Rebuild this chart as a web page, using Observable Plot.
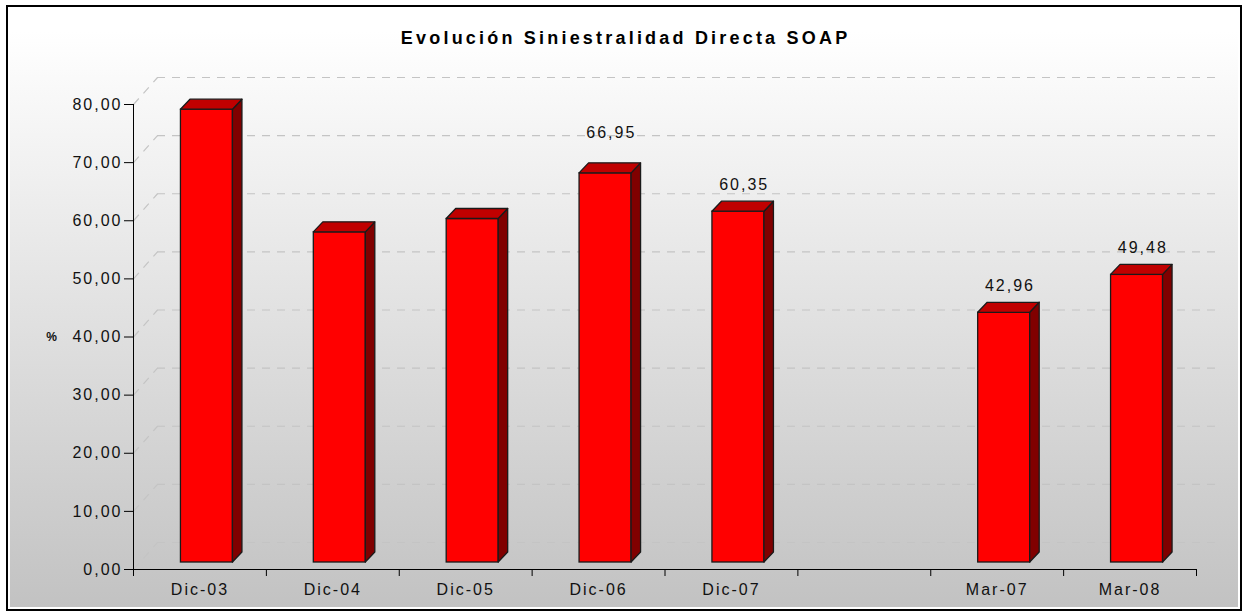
<!DOCTYPE html>
<html>
<head>
<meta charset="utf-8">
<script src="https://cdn.jsdelivr.net/npm/d3@7"></script>
<script src="https://cdn.jsdelivr.net/npm/@observablehq/plot@0.6"></script>
<style>
  html, body { margin: 0; padding: 0; background: #ffffff; }
  #page { position: relative; width: 1248px; height: 613px; overflow: hidden; background: #ffffff; }
  #frame {
    position: absolute; left: 6px; top: 5px; width: 1236px; height: 606px;
    box-sizing: border-box; border: 2px solid #000;
    box-shadow: inset 0 0 0 2px #ffffff;
    background: linear-gradient(to bottom, #ffffff 0%, #ffffff 4%, #c2c2c2 100%);
  }
  #title {
    position: absolute; left: 0; top: 28px; width: 1248px; text-align: center;
    font-family: "Liberation Sans", Arial, sans-serif; font-weight: bold;
    font-size: 18px; line-height: 20px; letter-spacing: 3.2px; padding-left: 3.2px;
    box-sizing: border-box; color: #000;
  }
  #chart { position: absolute; left: 0; top: 58px; }
</style>
</head>
<body>
<div id="page">
  <div id="frame"></div>
  <div id="title"></div>
  <div id="chart"></div>
</div>
<script>
// ---- data ----
const title = "Evolución Siniestralidad Directa SOAP";
const categories = ["Dic-03", "Dic-04", "Dic-05", "Dic-06", "Dic-07", "", "Mar-07", "Mar-08"];
const values = [77.9, 56.8, 59.1, 66.95, 60.35, null, 42.96, 49.48];
const labeledCategories = ["Dic-06", "Dic-07", "Mar-07", "Mar-08"];
const raisedLabelCategories = ["Dic-06"];
const yTicks = [0, 10, 20, 30, 40, 50, 60, 70, 80];
const yLabel = "%";

// ---- layout ----
const W = 1248, H = 555;
const mL = 133, mR = 52, mT = 46, mB = 44;
const xDomain = [-0.5, categories.length - 0.5];
const yDomain = [0, 80];
const kx = (W - mL - mR) / (xDomain[1] - xDomain[0]); // px per x unit
const ky = (H - mT - mB) / (yDomain[1] - yDomain[0]); // px per y unit

const fmt = v => v.toFixed(2).replace(".", ",");

// bar geometry (pixels converted to data units)
const hw = 26 / kx;          // half front width
const depX = 9.5 / kx, depY = 10 / ky;   // bar depth
const wallX = 24 / kx, wallY = 27 / ky;  // back wall depth

const bars = categories.map((c, i) => ({c, i, v: values[i]})).filter(d => d.v != null);
const topPts = bars.flatMap(d => [
  {c: d.c, y: d.v, x1: d.i - hw, x2: d.i + hw},
  {c: d.c, y: d.v + depY, x1: d.i - hw + depX, x2: d.i + hw + depX}
]);
const sidePts = bars.flatMap(d => [
  {c: d.c, x: d.i + hw, y1: 0, y2: d.v},
  {c: d.c, x: d.i + hw + depX, y1: depY, y2: d.v + depY}
]);
const labeled = bars.filter(d => labeledCategories.includes(d.c) && !raisedLabelCategories.includes(d.c));
const raised = bars.filter(d => raisedLabelCategories.includes(d.c));

document.getElementById("title").textContent = title;

const gridStyle = {stroke: "#c4c4c4", strokeWidth: 1.2, strokeDasharray: "8,7"};
const barStroke = "#1a1a1a";
const labelOpts = {x: d => d.i + depX / 2, y: d => d.v + depY, text: d => fmt(d.v), dx: 8, fill: "#111"};

const chart = Plot.plot({
  width: W, height: H,
  marginLeft: mL, marginRight: mR, marginTop: mT, marginBottom: mB,
  style: "background: transparent; overflow: visible; font-family: 'Liberation Sans', Arial, sans-serif; font-size: 16px; letter-spacing: 2px; color: #000;",
  x: {type: "linear", domain: xDomain, axis: null},
  y: {type: "linear", domain: yDomain, axis: null},
  marks: [
    // back wall gridlines
    Plot.ruleY(yTicks, {y: d => d, x1: xDomain[0], x2: xDomain[1], dx: 24, dy: -27, ...gridStyle}),
    // side wall diagonals
    Plot.link(yTicks, {x1: xDomain[0], y1: d => d, x2: xDomain[0] + wallX, y2: d => d + wallY, ...gridStyle}),
    // axes
    Plot.ruleX([xDomain[0]], {y1: yDomain[0], y2: yDomain[1], stroke: "#000"}),
    Plot.ruleY([0], {x1: xDomain[0], x2: xDomain[1], stroke: "#000"}),
    Plot.axisY({ticks: yTicks, tickSize: 9, tickPadding: 2, tickFormat: fmt, label: null, stroke: "#000", fill: "#111"}),
    Plot.axisX({ticks: d3.range(xDomain[0], xDomain[1] + 0.01, 1), tickSize: 7, tickFormat: () => "", label: null, stroke: "#000"}),
    Plot.axisX({ticks: d3.range(0, categories.length), tickSize: 0, tickPadding: 14, tickFormat: i => categories[i], label: null, fill: "#111"}),
    Plot.text([yLabel], {x: xDomain[0], y: 40, dx: -81, text: d => d, fontSize: 12, fontWeight: "bold", fill: "#111"}),
    // 3D bars
    Plot.rect(bars, {x1: d => d.i - hw, x2: d => d.i + hw, y1: 0, y2: d => d.v, dx: 7, dy: -7,
      fill: "#ff0000", stroke: barStroke, strokeWidth: 1.3}),
    Plot.areaY(sidePts, {x: "x", y1: "y1", y2: "y2", z: "c", dx: 7, dy: -7,
      fill: "#800000", stroke: barStroke, strokeWidth: 1.3}),
    Plot.areaX(topPts, {y: "y", x1: "x1", x2: "x2", z: "c", dx: 7, dy: -7,
      fill: "#c00000", stroke: barStroke, strokeWidth: 1.3}),
    // value labels
    Plot.text(labeled, {...labelOpts, dy: -24}),
    Plot.text(raised, {...labelOpts, dy: -37})
  ]
});
document.getElementById("chart").appendChild(chart);
</script>
</body>
</html>
